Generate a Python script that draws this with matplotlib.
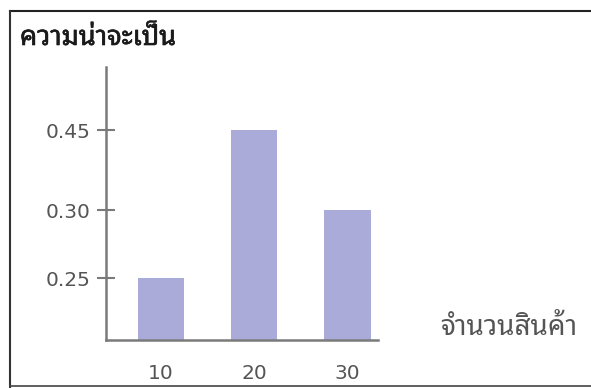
import numpy as np
import matplotlib
matplotlib.use("Agg")
import matplotlib.pyplot as plt
import matplotlib.patheffects as pe
from matplotlib import font_manager
from matplotlib.lines import Line2D

# data
amounts = [10, 20, 30]
probs = [0.25, 0.45, 0.30]
y_ticks = [0.25, 0.30, 0.45]
y_ticklabels = ["0.25", "0.30", "0.45"]
y_title = "ความน่าจะเป็น"
x_title = "จำนวนสินค้า"

BAR_COLOR = "#ababd9"
AXIS_COLOR = "#7a7a7a"
TEXT_COLOR = "#555555"


# find an installed font that has Thai glyphs
def find_thai_font():
    try:
        from fontTools.ttLib import TTFont
    except ImportError:
        return None
    names = []
    for f in font_manager.fontManager.ttflist:
        try:
            tt = TTFont(f.fname, fontNumber=0, lazy=True)
            cmap = tt.getBestCmap()
            if cmap and 0x0E01 in cmap:
                names.append(f.name)
        except Exception:
            pass
    if not names:
        return None
    for pref in ["Noto Sans Thai Looped", "Noto Sans Thai", "Loma", "Garuda", "Tlwg Typo", "Sarabun"]:
        if pref in names:
            return pref
    return names[0]


thai = find_thai_font()
thai_families = ([thai] if thai else []) + ["DejaVu Sans"]
plt.rcParams["font.family"] = ["DejaVu Sans"]

# the printed axis is not to scale: piecewise mapping of values to height
scale_vals = [0.0, 0.25, 0.30, 0.45, 0.60]
scale_px = [0.0, 62.0, 130.0, 210.0, 290.0]


def forward(v):
    return np.interp(v, scale_vals, scale_px)


def inverse(p):
    return np.interp(p, scale_px, scale_vals)


fig = plt.figure(figsize=(5.91, 3.88), dpi=100)
ax = fig.add_axes([106 / 591, 48 / 388, 272 / 591, 273 / 388])
ax.set_yscale("function", functions=(forward, inverse))

ax.bar(amounts, probs, width=5, color=BAR_COLOR, zorder=2)

ax.set_xlim(4.1, 33.3)
ax.set_ylim(0, inverse(273.0))

ax.set_xticks(amounts)
ax.set_xticklabels([str(a) for a in amounts])
ax.set_yticks(y_ticks)
ax.set_yticklabels(y_ticklabels)
ax.yaxis.set_minor_locator(matplotlib.ticker.NullLocator())

ax.tick_params(axis="x", length=0, pad=17, labelsize=14.5, labelcolor=TEXT_COLOR)
ax.tick_params(axis="y", direction="inout", length=13, width=1.5, color=AXIS_COLOR,
               pad=5, labelsize=14.5, labelcolor=TEXT_COLOR)

for side in ["top", "right"]:
    ax.spines[side].set_visible(False)
for side in ["left", "bottom"]:
    ax.spines[side].set_color(AXIS_COLOR)
    ax.spines[side].set_linewidth(1.8)

fig.text(20 / 591, 1 - 38 / 388, y_title, fontsize=19.5, family=thai_families,
         color="#1a1a1a", ha="left", va="center",
         path_effects=[pe.withStroke(linewidth=0.45, foreground="#1a1a1a")])
fig.text(440 / 591, 1 - 328 / 388, x_title, fontsize=20, family=thai_families,
         color=TEXT_COLOR, ha="left", va="center")

# scanned page frame
fig.add_artist(Line2D([10 / 591, 1], [1 - 11 / 388, 1 - 11 / 388],
                      transform=fig.transFigure, color="#222222", linewidth=1.5))
fig.add_artist(Line2D([10 / 591, 10 / 591], [1 - 11 / 388, 0],
                      transform=fig.transFigure, color="#333333", linewidth=1.5))
fig.add_artist(Line2D([10 / 591, 1], [2 / 388, 2 / 388],
                      transform=fig.transFigure, color="#444444", linewidth=1.2))

fig.savefig("out.png", dpi=100)
